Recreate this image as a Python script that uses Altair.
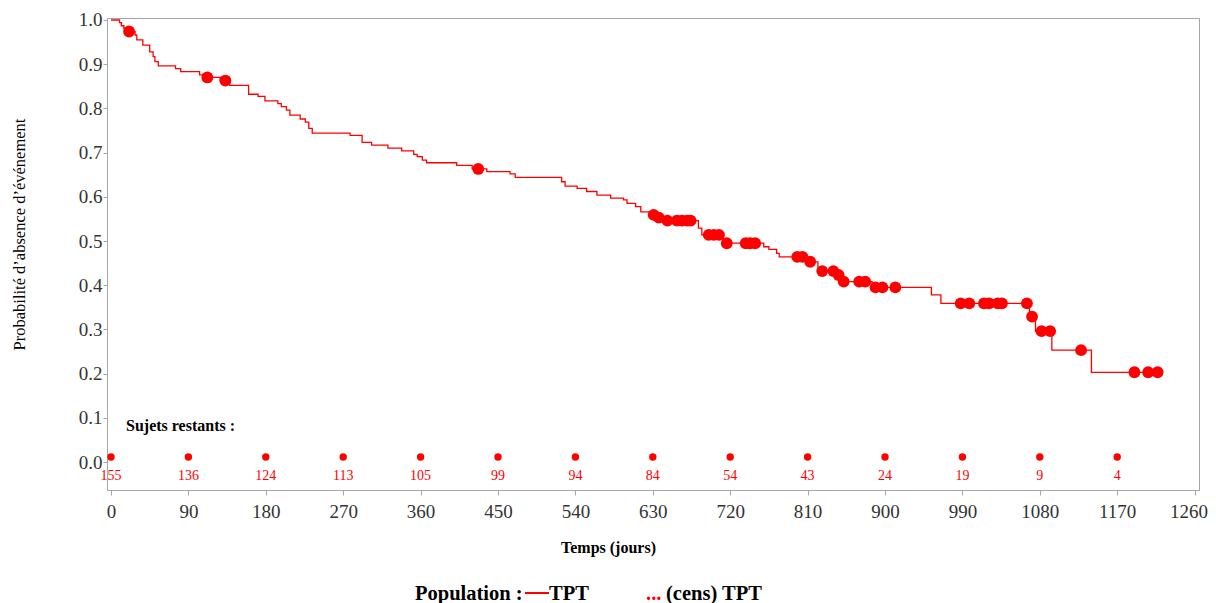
import altair as alt
import pandas as pd

# Kaplan-Meier step curve (time in days, survival probability)
times = [0, 10, 12, 15, 19, 28, 30, 37, 45, 49,
         51, 55, 75, 81, 103, 108, 127, 138, 160, 171,
         179, 194, 198, 204, 208, 220, 226, 230, 234, 278,
         292, 303, 322, 338, 352, 356, 362, 367, 402, 420,
         437, 464, 470, 524, 528, 542, 553, 565, 581, 596,
         600, 610, 616, 628, 635, 642, 683, 687, 712, 759,
         765, 774, 777, 810, 822, 843, 850, 885, 954, 965,
         1068, 1075, 1094, 1140, 1217]
surv = [1.000, 0.994, 0.987, 0.981, 0.974, 0.966, 0.955, 0.943, 0.928, 0.917,
        0.906, 0.896, 0.890, 0.883, 0.876, 0.870, 0.863, 0.852, 0.832, 0.827,
        0.817, 0.811, 0.804, 0.796, 0.785, 0.776, 0.769, 0.755, 0.744, 0.739,
        0.723, 0.717, 0.710, 0.704, 0.696, 0.691, 0.683, 0.677, 0.671, 0.663,
        0.657, 0.652, 0.644, 0.634, 0.624, 0.619, 0.612, 0.604, 0.597, 0.593,
        0.585, 0.578, 0.566, 0.559, 0.553, 0.546, 0.529, 0.514, 0.495, 0.487,
        0.481, 0.472, 0.464, 0.453, 0.432, 0.423, 0.408, 0.395, 0.378, 0.359,
        0.329, 0.296, 0.253, 0.203, 0.203]

# censored observations
cens_t = [21, 112, 133, 427, 631, 637, 647, 658, 664, 670, 674,
          695, 701, 707, 716, 738, 743, 749, 798, 804, 813,
          827, 840, 846, 852, 870, 877, 889, 897, 912,
          988, 998, 1015, 1021, 1031, 1036, 1065, 1071, 1082, 1092,
          1128, 1190, 1206, 1217]
cens_s = [0.974, 0.870, 0.863, 0.663, 0.559, 0.553, 0.546, 0.546, 0.546, 0.546, 0.546,
          0.514, 0.514, 0.514, 0.495, 0.495, 0.495, 0.495, 0.464, 0.464, 0.453,
          0.432, 0.432, 0.423, 0.408, 0.408, 0.408, 0.395, 0.395, 0.395,
          0.359, 0.359, 0.359, 0.359, 0.359, 0.359, 0.359, 0.329, 0.296, 0.296,
          0.253, 0.203, 0.203, 0.203]

# numbers at risk
risk_t = [0, 90, 180, 270, 360, 450, 540, 630, 720, 810, 900, 990, 1080, 1170]
risk_n = [155, 136, 124, 113, 105, 99, 94, 84, 54, 43, 24, 19, 9, 4]

x_ticks = list(range(0, 1261, 90))
y_ticks = [i / 10 for i in range(0, 11)]

FONT = "Liberation Serif"
RED = "#ff0000"
GREY = "#a6a6a6"

curve = pd.DataFrame({"t": times, "s": surv})
cens = pd.DataFrame({"t": cens_t, "s": cens_s})
risk = pd.DataFrame({"t": risk_t, "n": risk_n})
one = pd.DataFrame({"k": [0]})

xscale = alt.Scale(domain=[-4.65, 1265.1], nice=False, zero=False)
yscale = alt.Scale(domain=[-0.0633, 1.0045], nice=False, zero=False)

xaxis = alt.Axis(values=x_ticks, format="d", grid=False, title="Temps (jours)",
                 labelFont=FONT, labelFontSize=19, labelColor="#333333",
                 labelPadding=7, tickSize=5, tickColor=GREY, domainColor=GREY,
                 labelOverlap=False, labelBound=False,
                 labelOffset={"condition": {"test": "datum.value == 1260", "value": -6},
                              "value": 0},
                 titleFont=FONT, titleFontSize=16, titleFontWeight="bold",
                 titleColor="#000000", titleX=501, titleY=62,
                 titleBaseline="alphabetic", titleAlign="center")
yaxis = alt.Axis(values=y_ticks, format=".1f", grid=False,
                 title="Probabilité d’absence d’événement",
                 labelFont=FONT, labelFontSize=19, labelColor="#333333",
                 labelPadding=1, tickSize=4, tickColor=GREY, domainColor=GREY,
                 titleFont=FONT, titleFontSize=16.5, titleFontWeight="normal",
                 titleColor="#000000", titleX=-83, titleY=216, titleAngle=270,
                 titleAlign="center", titleBaseline="alphabetic")

X = alt.X("t:Q", scale=xscale, axis=xaxis)
Y = alt.Y("s:Q", scale=yscale, axis=yaxis)

line = alt.Chart(curve).mark_line(
    interpolate="step-after", color=RED, strokeWidth=1.3
).encode(x=X, y=Y)

points = alt.Chart(cens).mark_circle(size=140, color=RED, opacity=1).encode(x=X, y=Y)

risk_dots = alt.Chart(risk).mark_circle(size=55, color=RED, opacity=1).encode(
    x=X, y=alt.value(439)
)
risk_text = alt.Chart(risk).mark_text(
    font=FONT, fontSize=14, color=RED, baseline="middle", align="center"
).encode(x=X, y=alt.value(458), text="n:Q")

sujets = alt.Chart(one).mark_text(
    font=FONT, fontSize=16, fontWeight="bold", color="#000000",
    align="left", baseline="alphabetic"
).encode(x=alt.value(19), y=alt.value(413), text=alt.value("Sujets restants :"))

LEG = 20.5
leg_pop = alt.Chart(one).mark_text(
    font=FONT, fontSize=LEG, fontWeight="bold", color="#000000",
    align="left", baseline="alphabetic"
).encode(x=alt.value(308), y=alt.value(582), text=alt.value("Population :"))
leg_rule = alt.Chart(one).mark_rule(color=RED, strokeWidth=2).encode(
    x=alt.value(418), x2=alt.value(442), y=alt.value(575)
)
leg_tpt = alt.Chart(one).mark_text(
    font=FONT, fontSize=LEG, fontWeight="bold", color="#000000",
    align="left", baseline="alphabetic"
).encode(x=alt.value(442), y=alt.value(582), text=alt.value("TPT"))
leg_dots = alt.Chart(one).mark_text(
    font=FONT, fontSize=LEG, fontWeight="bold", color=RED,
    align="left", baseline="alphabetic"
).encode(x=alt.value(539), y=alt.value(582), text=alt.value("..."))
leg_cens = alt.Chart(one).mark_text(
    font=FONT, fontSize=LEG, fontWeight="bold", color="#000000",
    align="left", baseline="alphabetic"
).encode(x=alt.value(559), y=alt.value(582), text=alt.value("(cens) TPT"))

chart = alt.layer(
    line, points, risk_dots, risk_text, sujets,
    leg_pop, leg_rule, leg_tpt, leg_dots, leg_cens
).properties(
    width=1092, height=472,
    autosize=alt.AutoSizeParams(type="none"),
    padding={"left": 99, "top": 10, "right": 9, "bottom": 113},
    background="white"
).configure_view(stroke=GREY, strokeWidth=1)

chart.save("out.html", embed_options={"renderer": "svg", "actions": False})
